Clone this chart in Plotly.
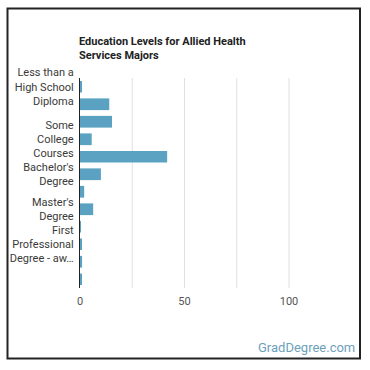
import plotly.graph_objects as go

categories = [
    "Less than a High School Diploma",
    "High School Diploma",
    "Post-Secondary Certificate",
    "Some College Courses",
    "Associate's Degree",
    "Bachelor's Degree",
    "Post-Baccalaureate Certificate",
    "Master's Degree",
    "Post-Master's Certificate",
    "First Professional Degree - awarded for completion of a program",
    "Doctoral Degree",
    "Post-Doctoral Training",
]
values = [0.5, 14, 15.3, 5.6, 41.7, 10, 2, 6.3, 0.3, 0.8, 1.0, 0.9]

shown_categories = [categories[0], categories[3], categories[5], categories[7], categories[9]]
shown_labels = [
    "Less than a<br>High School<br>Diploma",
    "Some<br>College<br>Courses",
    "Bachelor's<br>Degree",
    "Master's<br>Degree",
    "First<br>Professional<br>Degree - aw…",
]
x_ticks = [0, 50, 100]
x_grid = [0, 25, 50, 75, 100]

L, R, T, B = 80, 30, 78, 82
W = H = 370
pw = W - L - R
ph = H - T - B

def px(x):
    return (x - L) / pw

def py(y):
    return (H - B - y) / ph

fig = go.Figure()
fig.add_trace(go.Bar(
    y=categories, x=values, orientation="h",
    marker=dict(color="#5aa1c2", line=dict(width=0)),
    hoverinfo="x+y",
))

fig.update_layout(
    width=W, height=H,
    margin=dict(l=L, r=R, t=T, b=B, pad=0, autoexpand=False),
    paper_bgcolor="white", plot_bgcolor="white",
    bargap=0.33,
    showlegend=False,
    font=dict(family="Roboto", size=11, color="#333"),
    xaxis=dict(
        range=[0, 124.4], tickvals=x_ticks, ticktext=[str(v) for v in x_ticks],
        showgrid=False, zeroline=False, showline=False, automargin=False,
        tickfont=dict(size=11, color="#555"), ticks="", ticklabelstandoff=5,
        fixedrange=True,
    ),
    yaxis=dict(
        autorange="reversed", type="category", automargin=False,
        tickvals=shown_categories, ticktext=shown_labels,
        showgrid=False, zeroline=False,
        showline=True, linecolor="#222", linewidth=1.2,
        tickfont=dict(size=11, color="#3a3a3a"), ticks="", ticklabelstandoff=3,
        fixedrange=True,
    ),
)

# vertical grid lines drawn from the x scale
for g in x_grid:
    if g == 0:
        continue
    fig.add_shape(type="line", xref="x", yref="paper", x0=g, x1=g, y0=0, y1=1,
                  line=dict(color="#e0e0e0", width=1), layer="below")

# title
fig.add_annotation(
    xref="paper", yref="paper", x=px(77), y=py(48.5), xanchor="left", yanchor="middle",
    text="<b>Education Levels for Allied Health<br>Services Majors</b>",
    showarrow=False, align="left", font=dict(family="Roboto", size=11, color="#222"),
)

# watermark
fig.add_annotation(
    xref="paper", yref="paper", x=px(357), y=py(347), xanchor="right", yanchor="middle",
    text="GradDegree.com", showarrow=False,
    font=dict(family="Roboto", size=13, color="#6d9fbb"),
)

# frame
fig.add_shape(type="rect", xref="paper", yref="paper",
              x0=px(7.5), x1=px(360), y0=py(358.5), y1=py(8.5),
              line=dict(color="#222", width=2))

fig.write_html("out.html", config=dict(displayModeBar=False))
